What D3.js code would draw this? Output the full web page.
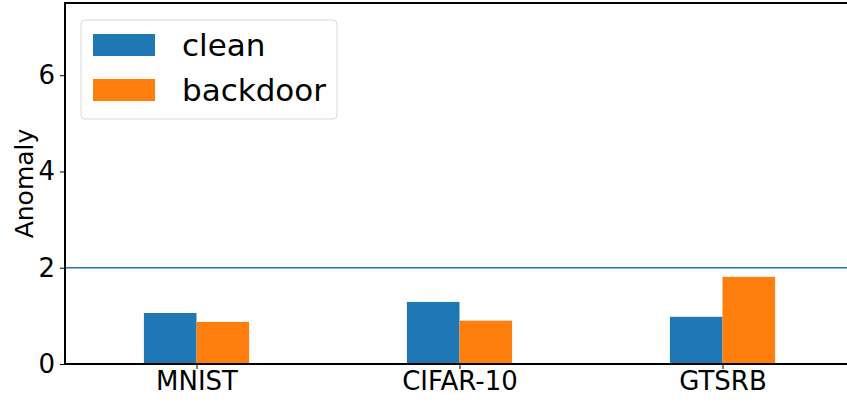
<!DOCTYPE html>
<html>
<head>
<meta charset="utf-8">
<script src="https://cdn.jsdelivr.net/npm/d3@7"></script>
<style>
  html, body { margin: 0; padding: 0; background: #fff; }
  svg { display: block; font-family: "DejaVu Sans", sans-serif; }
</style>
</head>
<body>
<svg id="chart" width="847" height="402"></svg>
<script>
// Anomaly index per dataset, clean vs backdoored model
const datasets = ["MNIST", "CIFAR-10", "GTSRB"];
const cleanValues = [1.06, 1.29, 0.98];
const backdoorValues = [0.875, 0.90, 1.81];
const seriesNames = ["clean", "backdoor"];
const seriesColors = ["#1f77b4", "#ff7f0e"];
const yTicks = [0, 2, 4, 6];
const threshold = 2;

const svg = d3.select("#chart");

const x = d3.scaleLinear().domain([-0.5, 2.5]).range([65, 854]);
const y = d3.scaleLinear().domain([0, 7.5]).range([364, 3]);
const barW = x(0.2) - x(0);

const series = [cleanValues, backdoorValues];

// bars: clean sits left of the category centre, backdoor to the right
series.forEach((vals, si) => {
  svg.append("g").selectAll("rect")
    .data(vals)
    .join("rect")
    .attr("x", (d, i) => x(i + (si === 0 ? -0.2 : 0)))
    .attr("width", barW)
    .attr("y", d => y(d))
    .attr("height", d => y(0) - y(d))
    .attr("fill", seriesColors[si]);
});

// threshold line
svg.append("line")
  .attr("x1", x(-0.5)).attr("x2", x(2.5))
  .attr("y1", y(threshold)).attr("y2", y(threshold))
  .attr("stroke", "#1f77b4").attr("stroke-width", 1.5);

// axes
const yAxis = d3.axisLeft(y).tickValues(yTicks).tickSize(5).tickPadding(5).tickFormat(d3.format("d"));
const gy = svg.append("g").attr("transform", `translate(${x(-0.5)},0)`).call(yAxis);
gy.select(".domain").remove();
gy.selectAll("line").attr("stroke", "#000").attr("stroke-width", 1);
gy.selectAll("text").attr("font-size", 26).attr("fill", "#000")
  .attr("font-family", "DejaVu Sans");

const xAxis = d3.axisBottom(x).tickValues([0, 1, 2]).tickSize(5).tickPadding(3)
  .tickFormat(i => datasets[i]);
const gx = svg.append("g").attr("transform", `translate(0,${y(0)})`).call(xAxis);
gx.select(".domain").remove();
gx.selectAll("line").attr("stroke", "#000").attr("stroke-width", 1);
gx.selectAll("text").attr("font-size", 26).attr("fill", "#000")
  .attr("font-family", "DejaVu Sans");

// spines
svg.append("line").attr("x1", x(-0.5)).attr("x2", x(2.5)).attr("y1", y(0)).attr("y2", y(0))
  .attr("stroke", "#000").attr("stroke-width", 2);
svg.append("line").attr("x1", x(-0.5)).attr("x2", x(2.5)).attr("y1", y(7.5)).attr("y2", y(7.5))
  .attr("stroke", "#000").attr("stroke-width", 2);
svg.append("line").attr("x1", x(-0.5)).attr("x2", x(-0.5)).attr("y1", y(0) + 1).attr("y2", y(7.5) - 1)
  .attr("stroke", "#000").attr("stroke-width", 2);

// y label
svg.append("text")
  .attr("transform", `translate(33,${(y(0) + y(7.5)) / 2}) rotate(-90)`)
  .attr("text-anchor", "middle")
  .attr("font-size", 25)
  .attr("fill", "#000")
  .text("Anomaly");

// legend
const lg = svg.append("g");
lg.append("rect")
  .attr("x", 81).attr("y", 20).attr("width", 256).attr("height", 99)
  .attr("rx", 4).attr("fill", "#fff").attr("fill-opacity", 0.8)
  .attr("stroke", "#d9d9d9").attr("stroke-width", 1);
seriesNames.forEach((name, i) => {
  const top = 34 + i * 45;
  lg.append("rect").attr("x", 93).attr("y", top).attr("width", 62).attr("height", 22)
    .attr("fill", seriesColors[i]);
  lg.append("text").attr("x", 182).attr("y", top + 22)
    .attr("font-size", 31).attr("fill", "#000").text(name);
});
</script>
</body>
</html>
